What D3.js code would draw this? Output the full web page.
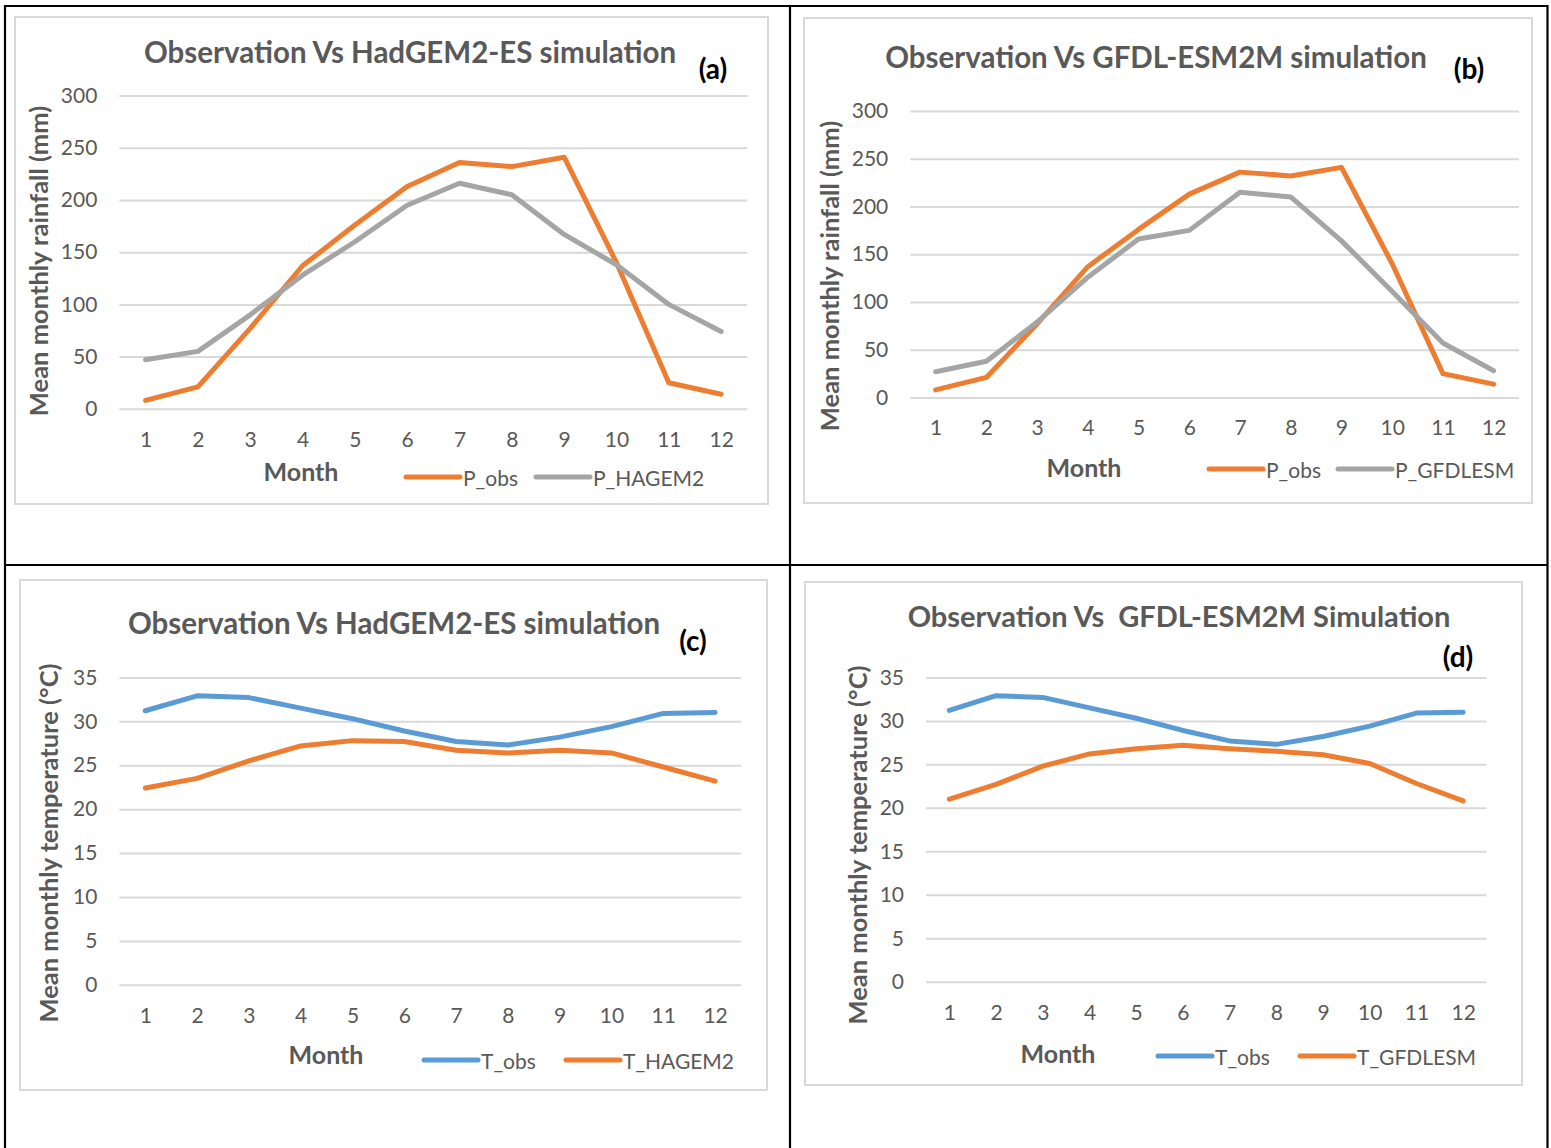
<!DOCTYPE html>
<html>
<head>
<meta charset="utf-8">
<script src="https://cdn.jsdelivr.net/npm/d3@7"></script>
<style>
  html, body { margin: 0; padding: 0; background: #ffffff; }
  svg { display: block; }
  text { font-family: Lato, "Open Sans", sans-serif; }
  text.chart-title { white-space: pre; }
</style>
</head>
<body>
<svg id="fig" width="1551" height="1148"></svg>
<script>
// Months on the x axis
const months = [1, 2, 3, 4, 5, 6, 7, 8, 9, 10, 11, 12];

// Mean monthly rainfall (mm)
const pObs      = [8, 21, 77, 137, 176, 213, 236, 232, 241, 140, 25, 14];
const pHadGEM2  = [47, 55, 90, 128, 160, 195, 216, 205, 167, 138, 100, 74];
const pGfdlEsm  = [27, 38, 79, 126, 166, 175, 215, 210, 164, 111, 57, 28];

// Mean monthly temperature (°C)
const tObs      = [31.2, 32.9, 32.7, 31.5, 30.3, 28.9, 27.7, 27.3, 28.2, 29.4, 30.9, 31.0];
const tHadGEM2  = [22.4, 23.5, 25.5, 27.2, 27.8, 27.7, 26.7, 26.4, 26.7, 26.4, 24.8, 23.2];
const tGfdlEsm  = [21.0, 22.7, 24.8, 26.2, 26.8, 27.2, 26.8, 26.5, 26.1, 25.1, 22.8, 20.8];

// Y tick labels
const rainTicks = [0, 50, 100, 150, 200, 250, 300];
const tempTicks = [0, 5, 10, 15, 20, 25, 30, 35];

const ORANGE = "#ED7D31", GREY = "#A5A5A5", BLUE = "#5B9BD5";
const TEXT = "#595959", GRID = "#d9d9d9";

const svg = d3.select("#fig");

// Page frame: black rules dividing the four panels
const rules = [
  [5, 6, 1548, 6], [5, 5, 5, 1148], [1547.5, 5, 1547.5, 1148],
  [790, 6, 790, 1148], [5, 565, 1548, 565]
];
svg.selectAll("line.rule").data(rules).enter().append("line")
  .attr("x1", d => d[0]).attr("y1", d => d[1])
  .attr("x2", d => d[2]).attr("y2", d => d[3])
  .attr("stroke", "#000").attr("stroke-width", 2.2);

const panels = [
  {
    box: [15, 17, 768, 504],
    plot: { x0: 119.4, x1: 747.3, yTop: 95.6, yBot: 408.8 },
    yMax: 300, ticks: rainTicks,
    title: "Observation Vs HadGEM2-ES simulation", titleX: 410, titleY: 51,
    titleSize: 29.5,
    tag: "(a)", tagX: 713, tagY: 68,
    yTitle: "Mean monthly rainfall (mm)", yTitleX: 38, yTitleY: 261,
    monthX: 301, monthY: 471,
    legendY: 477, legend: [
      { name: "P_obs", color: ORANGE, x: 406 },
      { name: "P_HAGEM2", color: GREY, x: 536 }
    ],
    series: [
      { values: pObs, color: ORANGE },
      { values: pHadGEM2, color: GREY }
    ]
  },
  {
    box: [804, 18, 1532, 503],
    plot: { x0: 910.3, x1: 1519, yTop: 111, yBot: 397.5 },
    yMax: 300, ticks: rainTicks,
    title: "Observation Vs GFDL-ESM2M simulation", titleX: 1156, titleY: 56,
    titleSize: 29.5,
    tag: "(b)", tagX: 1469, tagY: 68,
    yTitle: "Mean monthly rainfall (mm)", yTitleX: 829, yTitleY: 276,
    monthX: 1084, monthY: 467,
    legendY: 469, legend: [
      { name: "P_obs", color: ORANGE, x: 1209 },
      { name: "P_GFDLESM", color: GREY, x: 1338 }
    ],
    series: [
      { values: pObs, color: ORANGE },
      { values: pGfdlEsm, color: GREY }
    ]
  },
  {
    box: [20, 580, 767, 1090],
    plot: { x0: 119.4, x1: 741, yTop: 677.4, yBot: 984.8 },
    yMax: 35, ticks: tempTicks,
    title: "Observation Vs HadGEM2-ES simulation", titleX: 394, titleY: 622,
    titleSize: 29.5,
    tag: "(c)", tagX: 693, tagY: 640,
    yTitle: "Mean monthly temperature (°C)", yTitleX: 48, yTitleY: 843,
    monthX: 326, monthY: 1054,
    legendY: 1060, legend: [
      { name: "T_obs", color: BLUE, x: 424 },
      { name: "T_HAGEM2", color: ORANGE, x: 566 }
    ],
    series: [
      { values: tObs, color: BLUE },
      { values: tHadGEM2, color: ORANGE }
    ]
  },
  {
    box: [805, 582, 1522, 1085],
    plot: { x0: 926, x1: 1486.5, yTop: 677.4, yBot: 981.8 },
    yMax: 35, ticks: tempTicks,
    title: "Observation Vs  GFDL-ESM2M Simulation", titleX: 1179, titleY: 615,
    titleSize: 29,
    tag: "(d)", tagX: 1458, tagY: 656,
    yTitle: "Mean monthly temperature (°C)", yTitleX: 857, yTitleY: 845,
    monthX: 1058, monthY: 1053,
    legendY: 1056, legend: [
      { name: "T_obs", color: BLUE, x: 1158 },
      { name: "T_GFDLESM", color: ORANGE, x: 1300 }
    ],
    series: [
      { values: tObs, color: BLUE },
      { values: tGfdlEsm, color: ORANGE }
    ]
  }
];

function drawPanel(p) {
  const g = svg.append("g");
  const [bx0, by0, bx1, by1] = p.box;

  // chart area frame
  g.append("rect")
    .attr("x", bx0).attr("y", by0)
    .attr("width", bx1 - bx0).attr("height", by1 - by0)
    .attr("fill", "#fff").attr("stroke", GRID).attr("stroke-width", 2);

  const x = d3.scalePoint().domain(months).range([p.plot.x0, p.plot.x1]).padding(0.5);
  const y = d3.scaleLinear().domain([0, p.yMax]).range([p.plot.yBot, p.plot.yTop]);
  const w = p.plot.x1 - p.plot.x0;

  // horizontal gridlines + value labels
  const yAxis = g.append("g")
    .attr("transform", `translate(${p.plot.x0},0)`)
    .call(d3.axisLeft(y).tickValues(p.ticks).tickSize(-w).tickPadding(22).tickFormat(d3.format("d")));
  yAxis.select(".domain").remove();
  yAxis.selectAll(".tick line").attr("stroke", GRID).attr("stroke-width", 2);
  yAxis.selectAll(".tick text")
    .attr("fill", TEXT).style("font-size", "21px").style("font-family", "Lato");

  // month labels
  const xAxis = g.append("g")
    .attr("transform", `translate(0,${p.plot.yBot})`)
    .call(d3.axisBottom(x).tickSize(0).tickPadding(23));
  xAxis.select(".domain").remove();
  xAxis.selectAll(".tick text")
    .attr("fill", TEXT).style("font-size", "21px").style("font-family", "Lato");

  // series lines
  const line = d3.line()
    .x((d, i) => x(months[i]))
    .y(d => y(d));
  p.series.forEach(s => {
    g.append("path")
      .datum(s.values)
      .attr("d", line)
      .attr("fill", "none")
      .attr("stroke", s.color)
      .attr("stroke-width", 5)
      .attr("stroke-linejoin", "round")
      .attr("stroke-linecap", "round");
  });

  // chart title
  g.append("text")
    .attr("class", "chart-title")
    .attr("x", p.titleX).attr("y", p.titleY)
    .attr("text-anchor", "middle").attr("dominant-baseline", "central")
    .attr("fill", TEXT).style("font-weight", "bold").style("font-size", p.titleSize + "px")
    .text(p.title);

  // panel letter
  g.append("text")
    .attr("x", p.tagX).attr("y", p.tagY)
    .attr("text-anchor", "middle").attr("dominant-baseline", "central")
    .attr("fill", "#000").style("font-weight", "bold").style("font-size", "28px")
    .text(p.tag);

  // y axis title
  g.append("text")
    .attr("transform", `translate(${p.yTitleX},${p.yTitleY}) rotate(-90)`)
    .attr("text-anchor", "middle").attr("dominant-baseline", "central")
    .attr("fill", TEXT).style("font-weight", "bold").style("font-size", "25.5px")
    .text(p.yTitle);

  // x axis title
  g.append("text")
    .attr("x", p.monthX).attr("y", p.monthY)
    .attr("text-anchor", "middle").attr("dominant-baseline", "central")
    .attr("fill", TEXT).style("font-weight", "bold").style("font-size", "25px")
    .text("Month");

  // legend
  const leg = g.selectAll("g.leg").data(p.legend).enter().append("g");
  leg.append("line")
    .attr("x1", d => d.x).attr("x2", d => d.x + 54)
    .attr("y1", p.legendY).attr("y2", p.legendY)
    .attr("stroke", d => d.color).attr("stroke-width", 5)
    .attr("stroke-linecap", "round");
  leg.append("text")
    .attr("x", d => d.x + 57).attr("y", p.legendY)
    .attr("dominant-baseline", "central")
    .attr("fill", TEXT).style("font-size", "21px")
    .text(d => d.name);
}

panels.forEach(drawPanel);
</script>
</body>
</html>
